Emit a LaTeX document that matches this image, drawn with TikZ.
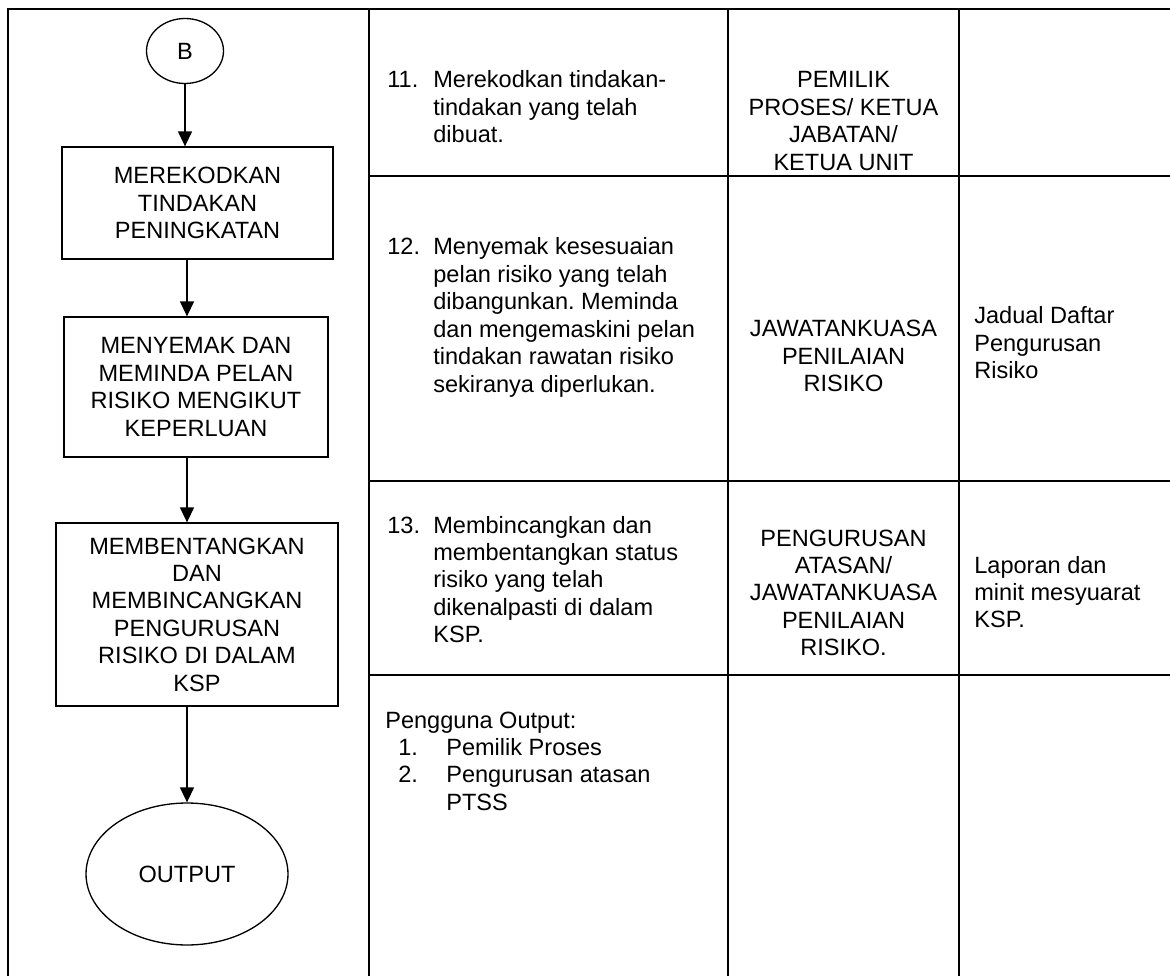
\documentclass[tikz,border=0pt]{standalone}
\usepackage{fontspec}
\setmainfont{Liberation Sans}
\usetikzlibrary{arrows.meta,shapes.geometric}
\frenchspacing
\newcommand{\boxfont}{\fontsize{13.4pt}{15.6pt}\selectfont}
\tikzset{>={Triangle[length=0.3cm,width=0.28cm]},
  rule/.style={line width=1.1pt},
  stepbox/.style={draw,line width=0.75pt,align=center,font=\boxfont,inner sep=0pt},
  terminal/.style={ellipse,draw,line width=0.75pt,align=center,font=\boxfont,inner sep=0pt},
  flow/.style={->,line width=0.75pt},
  celltext/.style={font=\boxfont,inner sep=0pt,anchor=base west},
  midtext/.style={font=\boxfont,inner sep=0pt,anchor=base},
}

\begin{document}
\begin{tikzpicture}[x=0.02cm,y=-0.02cm]
    \useasboundingbox (0,0) rectangle (1170,976);

    % table rules
    \draw[rule] (8,976) -- (8,9) -- (1170,9);
    \foreach \x in {369,728,959}
        \draw[rule] (\x,9) -- (\x,976);
    \foreach \y in {176,481,675}
        \draw[rule] (369,\y) -- (1170,\y);

    % flow chart
    \node[terminal, minimum width=1.54cm, minimum height=1.3cm] (B) at (185,51) {B};
    \node[stepbox, minimum width=5.42cm, minimum height=2.24cm] (rekod) at (197.5,203)
        {MEREKODKAN\\TINDAKAN\\PENINGKATAN};
    \node[stepbox, minimum width=5.28cm, minimum height=2.8cm] (semak) at (196,387)
        {MENYEMAK DAN\\MEMINDA PELAN\\RISIKO MENGIKUT\\KEPERLUAN};
    \node[stepbox, minimum width=5.64cm, minimum height=3.66cm] (bentang) at (197,614.5)
        {MEMBENTANGKAN\\DAN\\MEMBINCANGKAN\\PENGURUSAN\\RISIKO DI DALAM\\KSP};
    \node[terminal, minimum width=4.04cm, minimum height=2.84cm] (output) at (187,874) {OUTPUT};

    \draw[flow] (B.south) -- (B.south |- rekod.north);
    \draw[flow] (rekod.south -| output) -- (semak.north -| output);
    \draw[flow] (semak.south -| output) -- (bentang.north -| output);
    \draw[flow] (bentang.south -| output) -- (output.north);

    % activities
    \node[celltext] (act11) at (387,88) {\begin{tabular}[t]{@{}p{0.92cm}@{}l@{}}
        11. & Merekodkan tindakan-\\ & tindakan yang telah\\ & dibuat.\end{tabular}};
    \node[celltext] (act12) at (387,255) {\begin{tabular}[t]{@{}p{0.92cm}@{}l@{}}
        12. & Menyemak kesesuaian\\ & pelan risiko yang telah\\ & dibangunkan. Meminda\\
        & dan mengemaskini pelan\\ & tindakan rawatan risiko\\ & sekiranya diperlukan.\end{tabular}};
    \node[celltext] (act13) at (387,533) {\begin{tabular}[t]{@{}p{0.92cm}@{}l@{}}
        13. & Membincangkan dan\\ & membentangkan status\\ & risiko yang telah\\
        & dikenalpasti di dalam\\ & KSP.\end{tabular}};
    \node[celltext] (users) at (385,728) {\begin{tabular}[t]{@{}p{0.26cm}@{}p{0.96cm}@{}l@{}}
        \multicolumn{3}{@{}l@{}}{Pengguna Output:}\\
        & 1. & Pemilik Proses\\ & 2. & Pengurusan atasan\\ & & PTSS\end{tabular}};

    % responsibility
    \node[midtext] (who11) at (843.5,88) {\begin{tabular}[t]{@{}c@{}}
        PEMILIK\\PROSES/ KETUA\\JABATAN/\\KETUA UNIT\end{tabular}};
    \node[midtext] (who12) at (843.5,337) {\begin{tabular}[t]{@{}c@{}}
        JAWATANKUASA\\PENILAIAN\\RISIKO\end{tabular}};
    \node[midtext] (who13) at (843.5,546) {\begin{tabular}[t]{@{}c@{}}
        PENGURUSAN\\ATASAN/\\JAWATANKUASA\\PENILAIAN\\RISIKO.\end{tabular}};

    % records
    \node[celltext] (doc12) at (974,324) {\begin{tabular}[t]{@{}l@{}}
        Jadual Daftar\\Pengurusan\\Risiko\end{tabular}};
    \node[celltext] (doc13) at (974,573) {\begin{tabular}[t]{@{}l@{}}
        Laporan dan\\minit mesyuarat\\KSP.\end{tabular}};
\end{tikzpicture}
\end{document}
